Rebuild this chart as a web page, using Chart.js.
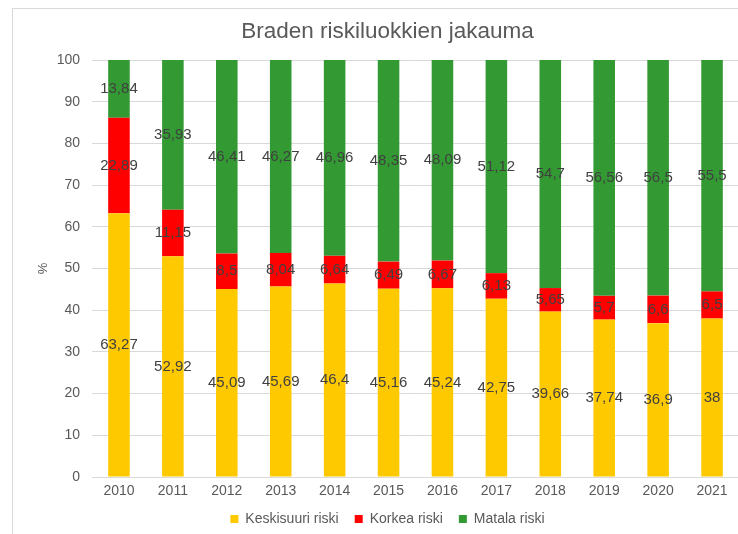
<!DOCTYPE html>
<html>
<head>
<meta charset="utf-8">
<script src="https://cdn.jsdelivr.net/npm/chart.js@4"></script>
<style>
    html, body { margin: 0; padding: 0; background: #fff; overflow: hidden; }
    #frame {
        position: absolute; left: 12px; top: 8px;
        width: 742px; height: 540px;
        border: 1px solid #d9d9d9;
        background: #fff;
    }
    #chart { display: block; }
</style>
</head>
<body>
<div id="frame"><canvas id="chart" width="742" height="527"></canvas></div>
<script>
// --- DATA ---
const years = ['2010', '2011', '2012', '2013', '2014', '2015', '2016', '2017', '2018', '2019', '2020', '2021'];
const keskisuuri = [63.27, 52.92, 45.09, 45.69, 46.4, 45.16, 45.24, 42.75, 39.66, 37.74, 36.9, 38];
const korkea = [22.89, 11.15, 8.5, 8.04, 6.64, 6.49, 6.67, 6.13, 5.65, 5.7, 6.6, 6.5];
const matala = [13.84, 35.93, 46.41, 46.27, 46.96, 48.35, 48.09, 51.12, 54.7, 56.56, 56.5, 55.5];
const yTicks = [0, 10, 20, 30, 40, 50, 60, 70, 80, 90, 100];

const FONT = "'Liberation Sans', Arial, sans-serif";

// value labels in the middle of each segment, finnish decimal comma
const segmentLabels = {
    id: 'segmentLabels',
    afterDatasetsDraw(chart) {
        const ctx = chart.ctx;
        ctx.save();
        ctx.font = '15px ' + FONT;
        ctx.fillStyle = '#404040';
        ctx.textAlign = 'center';
        ctx.textBaseline = 'middle';
        chart.data.datasets.forEach((ds, i) => {
            const meta = chart.getDatasetMeta(i);
            meta.data.forEach((bar, j) => {
                const mid = (bar.y + bar.base) / 2;
                ctx.fillText(String(ds.data[j]).replace('.', ','), bar.x, mid);
            });
        });
        ctx.restore();
    }
};

new Chart(document.getElementById('chart'), {
    type: 'bar',
    data: {
        labels: years,
        datasets: [
            { label: 'Keskisuuri riski', data: keskisuuri, backgroundColor: '#ffc900' },
            { label: 'Korkea riski', data: korkea, backgroundColor: '#ff0000' },
            { label: 'Matala riski', data: matala, backgroundColor: '#339933' }
        ]
    },
    options: {
        responsive: false,
        animation: false,
        datasets: { bar: { categoryPercentage: 1, barPercentage: 0.4 } },
        layout: { padding: { left: 23, right: 16, top: 0, bottom: 0 } },
        plugins: {
            title: {
                display: true, text: 'Braden riskiluokkien jakauma',
                color: '#595959', font: { family: FONT, size: 22.5, weight: 'normal' },
                padding: { top: 9, bottom: 15 }
            },
            legend: {
                position: 'bottom',
                labels: {
                    color: '#595959', font: { family: FONT, size: 14 },
                    boxWidth: 8, boxHeight: 8, padding: 16
                }
            },
            tooltip: { enabled: false }
        },
        scales: {
            x: {
                stacked: true,
                grid: { display: false, drawTicks: false },
                border: { color: '#d9d9d9' },
                ticks: { color: '#595959', font: { family: FONT, size: 14 }, padding: 6 },
                afterFit: scale => { scale.height = 19; }
            },
            y: {
                stacked: true, min: 0, max: 100,
                afterBuildTicks: axis => { axis.ticks = yTicks.map(v => ({ value: v })); },
                grid: { color: '#d9d9d9', drawTicks: false },
                border: { display: false },
                ticks: { color: '#595959', font: { family: FONT, size: 14 }, padding: 12 },
                title: { display: true, text: '%', color: '#595959', font: { family: FONT, size: 13 }, padding: { top: 0, bottom: 8 } },
                afterFit: scale => { scale.width = 56; }
            }
        }
    },
    plugins: [segmentLabels]
});
</script>
</body>
</html>
